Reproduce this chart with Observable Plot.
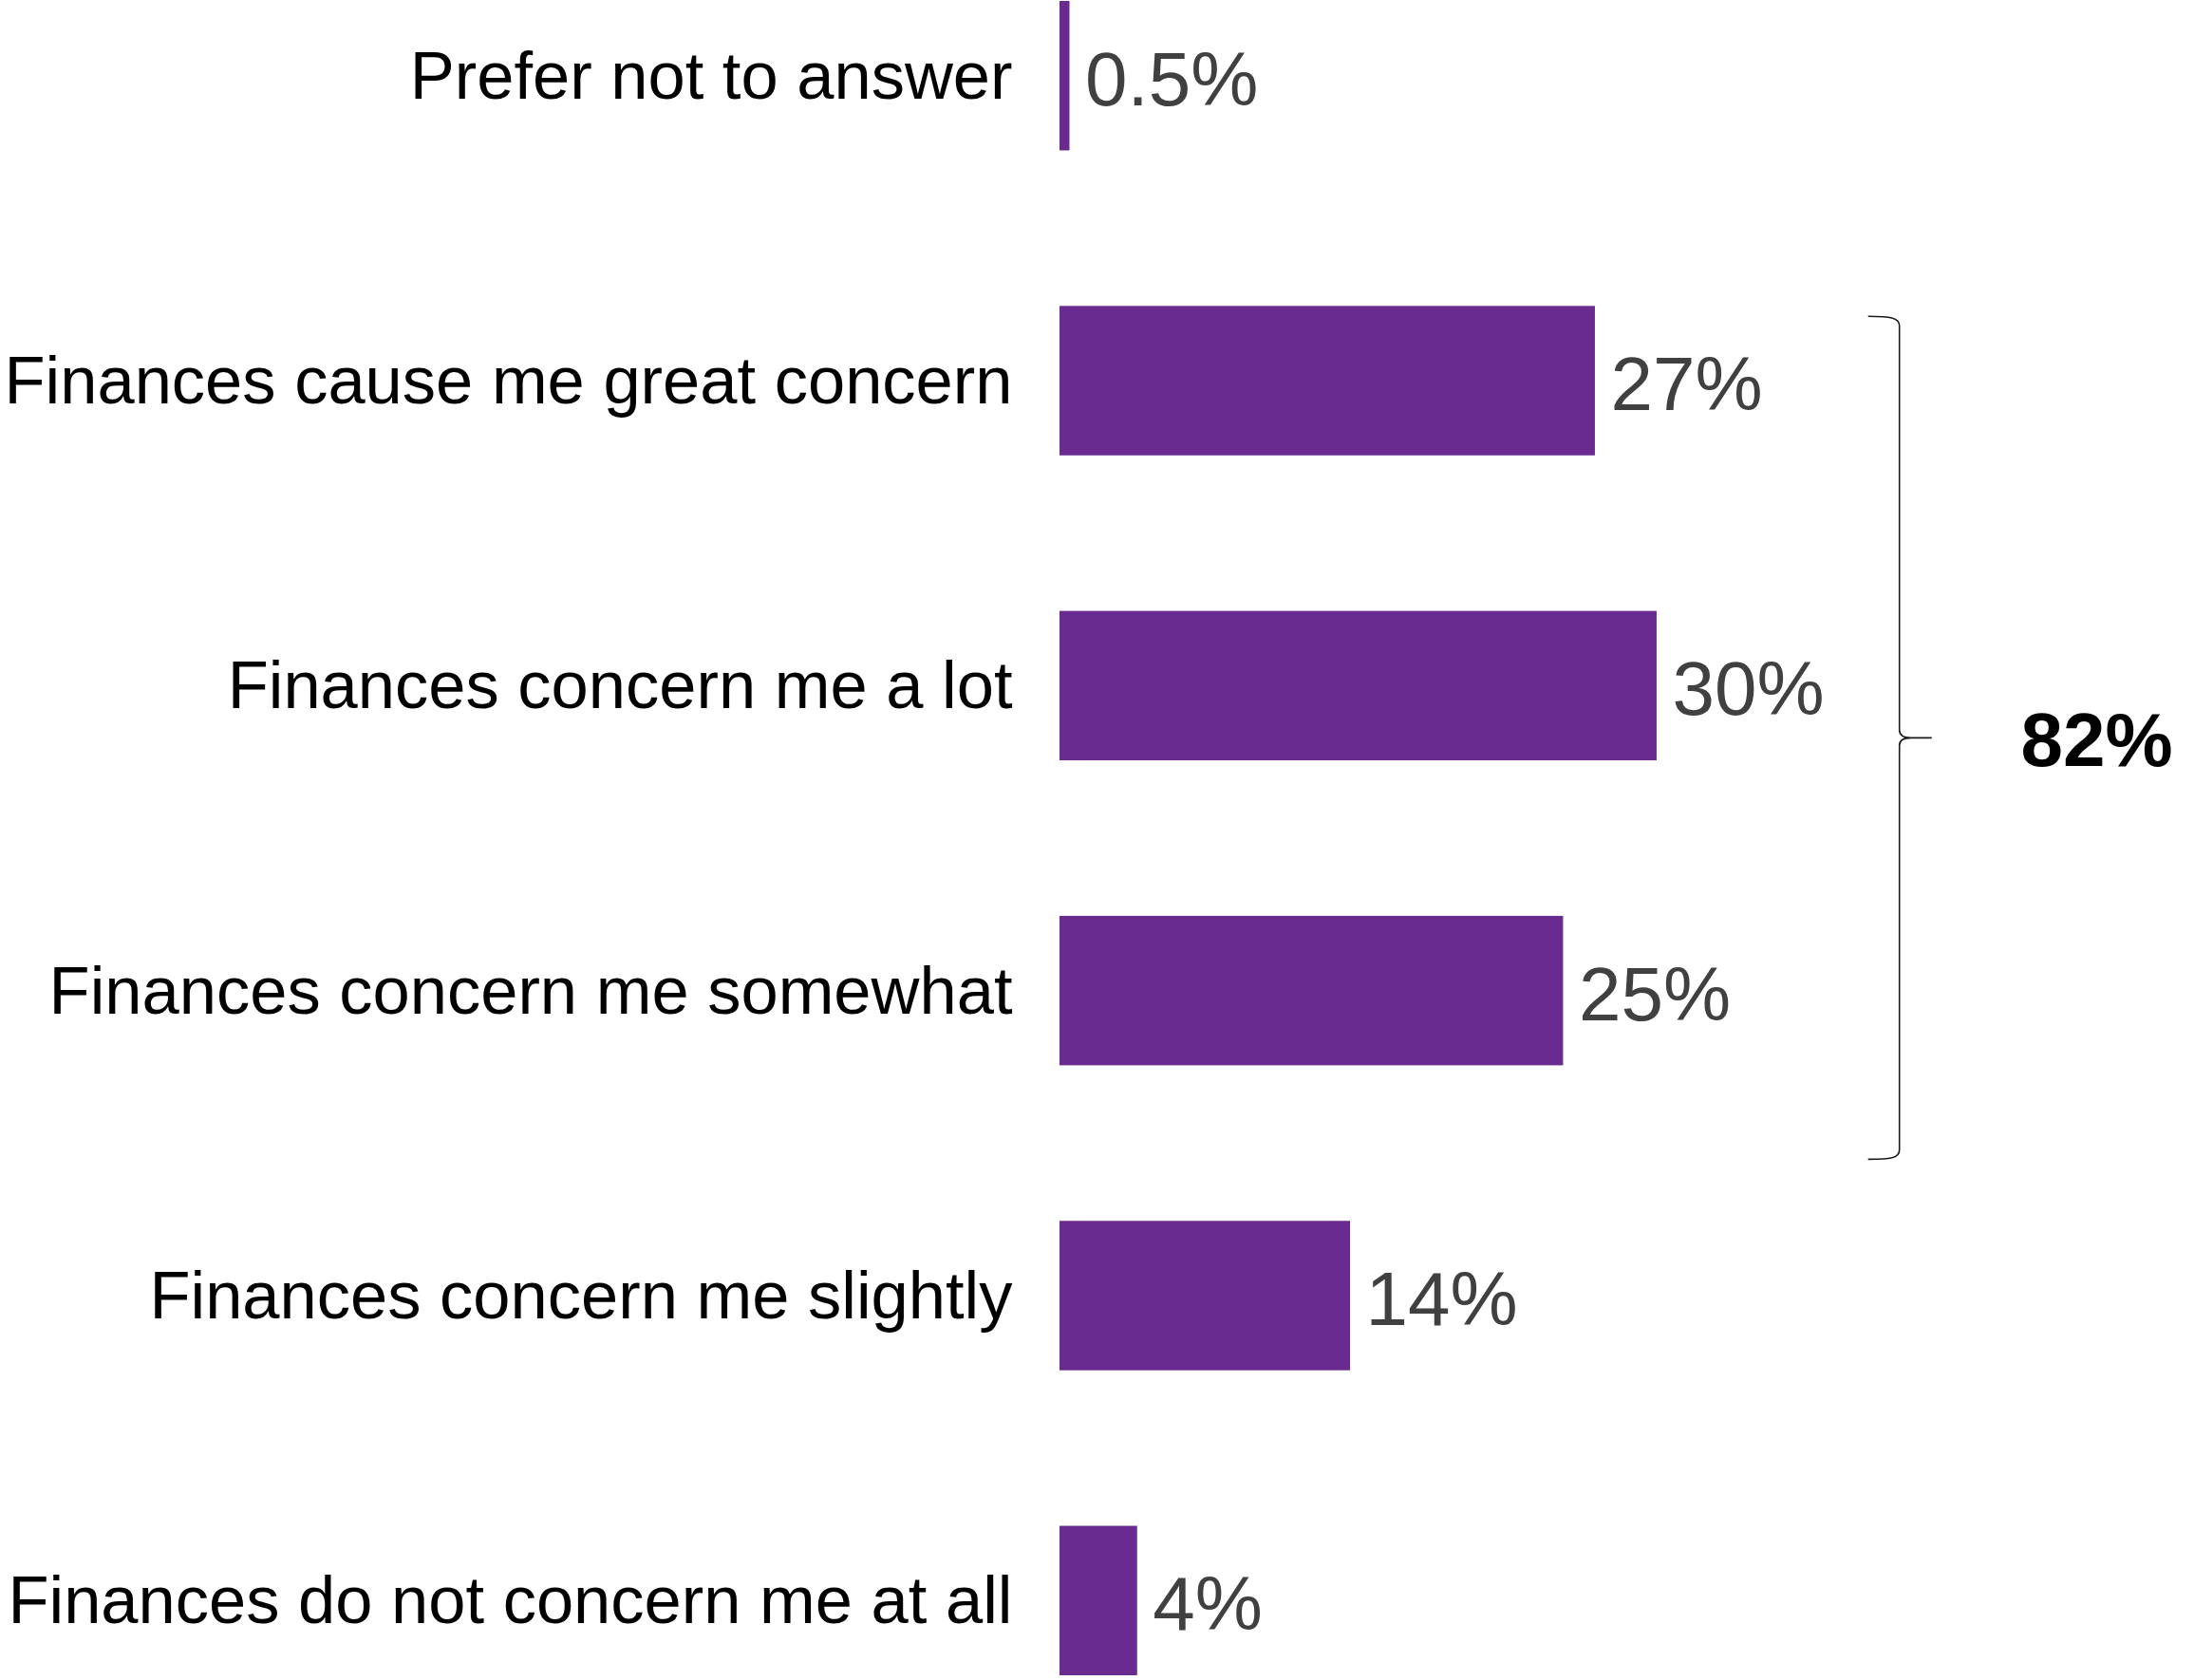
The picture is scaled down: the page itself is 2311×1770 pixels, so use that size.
<!DOCTYPE html>
<html>
<head>
<meta charset="utf-8">
<script src="https://cdn.jsdelivr.net/npm/d3@7"></script>
<script src="https://cdn.jsdelivr.net/npm/@observablehq/plot@0.6"></script>
<style>
  html, body { margin: 0; padding: 0; background: #ffffff; }
  #chart svg { display: block; }
</style>
</head>
<body>
<div id="chart"></div>
<script>
// ---- Data ----
const categories = [
  "Prefer not to answer",
  "Finances cause me great concern",
  "Finances concern me a lot",
  "Finances concern me somewhat",
  "Finances concern me slightly",
  "Finances do not concern me at all"
];
// bar lengths in percent
const values = [0.5, 26.9, 30, 25.3, 14.6, 3.9];
// value labels printed next to the bars
const valueLabels = ["0.5%", "27%", "30%", "25%", "14%", "4%"];
// bracket grouping: first and last category of the group, and its total label
const bracketGroup = [categories[1], categories[3]];
const bracketTotalLabel = "82%";
const bracketX = 42.2;      // percent units on the x scale
const totalLabelX = 48.3;   // percent units on the x scale

const data = categories.map((c, i) => ({ category: c, value: values[i], label: valueLabels[i] }));

const FONT = "'Liberation Sans', Arial, Helvetica, sans-serif";

// custom mark: curly bracket and total label drawn through Plot's scales
function bracketMark(index, scales, vals, dimensions, context) {
  const x = scales.x, y = scales.y;
  const bw = typeof y.bandwidth === "function" ? y.bandwidth() : scales.scales.y.bandwidth;
  const xv = x(bracketX);
  const top = y(bracketGroup[0]) + 11;
  const bot = y(bracketGroup[1]) + bw + 99;
  const mid = (top + bot) / 2;
  const xl = xv - 33, xt = xv + 34;
  const p = [
    `M${xl},${top}`,
    `C${xv - 10},${top} ${xv},${top + 1} ${xv},${top + 10}`,
    `L${xv},${mid - 8}`,
    `C${xv},${mid - 2} ${xv + 4},${mid} ${xv + 12},${mid}`,
    `L${xt},${mid}`,
    `M${xv + 12},${mid}`,
    `C${xv + 4},${mid} ${xv},${mid + 2} ${xv},${mid + 8}`,
    `L${xv},${bot - 10}`,
    `C${xv},${bot - 1} ${xv - 10},${bot} ${xl},${bot}`
  ].join(" ");
  const g = d3.create("svg:g");
  g.append("path")
    .attr("d", p)
    .attr("fill", "none")
    .attr("stroke", "#1a1a1a")
    .attr("stroke-width", 1.6);
  g.append("text")
    .attr("x", x(totalLabelX))
    .attr("y", mid + 30)
    .attr("text-anchor", "start")
    .attr("font-family", FONT)
    .attr("font-size", 80)
    .attr("font-weight", "bold")
    .attr("fill", "#000000")
    .text(bracketTotalLabel);
  return g.node();
}

const chart = Plot.plot({
  width: 2311,
  height: 1770,
  marginLeft: 1116,
  marginRight: 0,
  marginTop: 1,
  marginBottom: 5,
  style: { fontFamily: FONT, background: "#ffffff" },
  x: { domain: [0, 57], axis: null },
  y: { type: "band", domain: categories, paddingInner: 0.51, paddingOuter: 0, round: false, axis: null },
  marks: [
    Plot.barX(data, { x: "value", y: "category", fill: "#692B8F" }),
    Plot.text(data, {
      y: "category", text: "category", frameAnchor: "left", textAnchor: "end",
      dx: -50, dy: 1, fontSize: 70.5, fill: "#000000", fontFamily: FONT
    }),
    Plot.text(data, {
      x: "value", y: "category", text: "label", textAnchor: "start",
      dx: 16, dy: 5, fontSize: 80, fill: "#404040", fontFamily: FONT
    }),
    bracketMark
  ]
});

document.getElementById("chart").appendChild(chart);
</script>
</body>
</html>
